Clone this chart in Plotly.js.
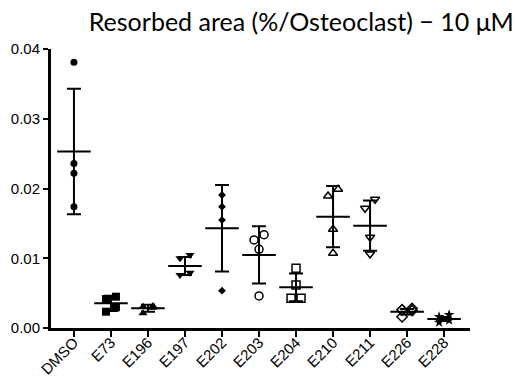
<!DOCTYPE html>
<html>
<head>
<meta charset="utf-8">
<script src="https://cdn.plot.ly/plotly-3.0.1.min.js"></script>
<style>html,body{margin:0;padding:0;background:#fff;}#chart{width:515px;height:378px;}</style>
</head>
<body>
<div id="chart"></div>
<script>
// ---- data ----
const categories = ['DMSO','E73','E196','E197','E202','E203','E204','E210','E211','E226','E228'];
const dmso = [0.0381, 0.0236, 0.0222, 0.0174];
const e73  = [0.00449, 0.00416, 0.00297, 0.00234];
const e196 = [0.00315, 0.00306, 0.0029, 0.0021];
const e197 = [0.01047, 0.00999, 0.00793, 0.0076];
const e202 = [0.01907, 0.01739, 0.01548, 0.00535];
const e203 = [0.01338, 0.01262, 0.01128, 0.00459];
const e204 = [0.00856, 0.00616, 0.00426, 0.00426];
const e210 = [0.01989, 0.01892, 0.01415, 0.01071];
const e211 = [0.01845, 0.01716, 0.0130, 0.01061];
const e226 = [0.0028, 0.0026, 0.0025, 0.0016];
const e228 = [0.0019, 0.0016, 0.0011, 0.0008];
const means = [0.0253, 0.00354, 0.00282, 0.00889, 0.01429, 0.01047, 0.00583, 0.01596, 0.01467, 0.00234, 0.00129];
const sds   = [0.0090, 0.0011, 0.0005, 0.0013, 0.0062, 0.0041, 0.0020, 0.0044, 0.0036, 0.0004, 0.0003];
const yTicks = [0, 0.01, 0.02, 0.03, 0.04];

const groups = [dmso, e73, e196, e197, e202, e203, e204, e210, e211, e226, e228];
const symbols = ['circle','square','triangle-up','triangle-down','diamond','circle-open','square-open','triangle-up-open','triangle-down-open','diamond-open','star'];
const sizes = [7,8,8,8,6,8,8,8,8,8,8];

// ---- layout geometry ----
const W = 515, H = 378;
const margin = {l: 51, r: 45, t: 49, b: 50};
const xRange = [-0.62, 10.7];
const yRange = [0, 0.04];
const pxPerCat = (W - margin.l - margin.r) / (xRange[1] - xRange[0]);
const pxPerY = (H - margin.t - margin.b) / (yRange[1] - yRange[0]);

// simple scatter-dot spreading: pair points that are vertically close
function spread(vals) {
  const order = vals.map((v, i) => i).sort((a, b) => vals[b] - vals[a]);
  const off = new Array(vals.length).fill(0);
  const d = 10 / pxPerCat;
  let k = 0;
  while (k < order.length) {
    const a = order[k], b = order[k + 1];
    if (b !== undefined && (vals[a] - vals[b]) * pxPerY < 9.5) {
      off[a] = d / 2; off[b] = -d / 2; k += 2;
    } else { k += 1; }
  }
  return off;
}

const traces = [];
groups.forEach((vals, gi) => {
  const off = spread(vals);
  traces.push({
    type: 'scatter', mode: 'markers',
    x: vals.map((v, i) => gi + off[i]), y: vals,
    marker: {symbol: symbols[gi], size: sizes[gi], color: '#000', line: {color: '#000', width: symbols[gi].includes('open') ? 1.5 : 0}},
    showlegend: false, hoverinfo: 'y'
  });
});
traces.push({
  type: 'scatter', mode: 'markers',
  x: categories.map((c, i) => i), y: means,
  marker: {symbol: 'line-ew', size: 24, color: '#000', line: {color: '#000', width: 2}},
  error_y: {type: 'data', array: sds, visible: true, thickness: 2, width: 7, color: '#000'},
  showlegend: false, hoverinfo: 'y'
});

const layout = {
  width: W, height: H, margin: margin,
  paper_bgcolor: '#fff', plot_bgcolor: '#fff',
  font: {family: 'Liberation Sans, Arial, sans-serif', color: '#000', size: 14},
  title: {text: 'Resorbed area (%/Osteoclast) − 10 μM', font: {family: 'Lato, Liberation Sans, sans-serif', size: 25, color: '#000'},
          x: 0.585, xref: 'container', xanchor: 'center', y: 0.94, yref: 'container', yanchor: 'middle'},
  xaxis: {range: xRange, tickmode: 'array', tickvals: categories.map((c, i) => i), ticktext: categories,
          tickangle: -45, showline: true, linewidth: 3, linecolor: '#000', ticks: 'outside', ticklen: 6, tickwidth: 2,
          tickcolor: '#000', showgrid: false, zeroline: false, fixedrange: true, tickfont: {size: 15},
          ticklabelstandoff: -9},
  yaxis: {range: yRange, tickmode: 'array', tickvals: yTicks, ticktext: yTicks.map(v => v.toFixed(2)),
          showline: true, linewidth: 3, linecolor: '#000', ticks: 'outside', ticklen: 5, tickwidth: 2,
          tickcolor: '#000', showgrid: false, zeroline: false, fixedrange: true, tickfont: {size: 15}}
};

Plotly.newPlot('chart', traces, layout, {displayModeBar: false, staticPlot: true});
</script>
</body>
</html>
